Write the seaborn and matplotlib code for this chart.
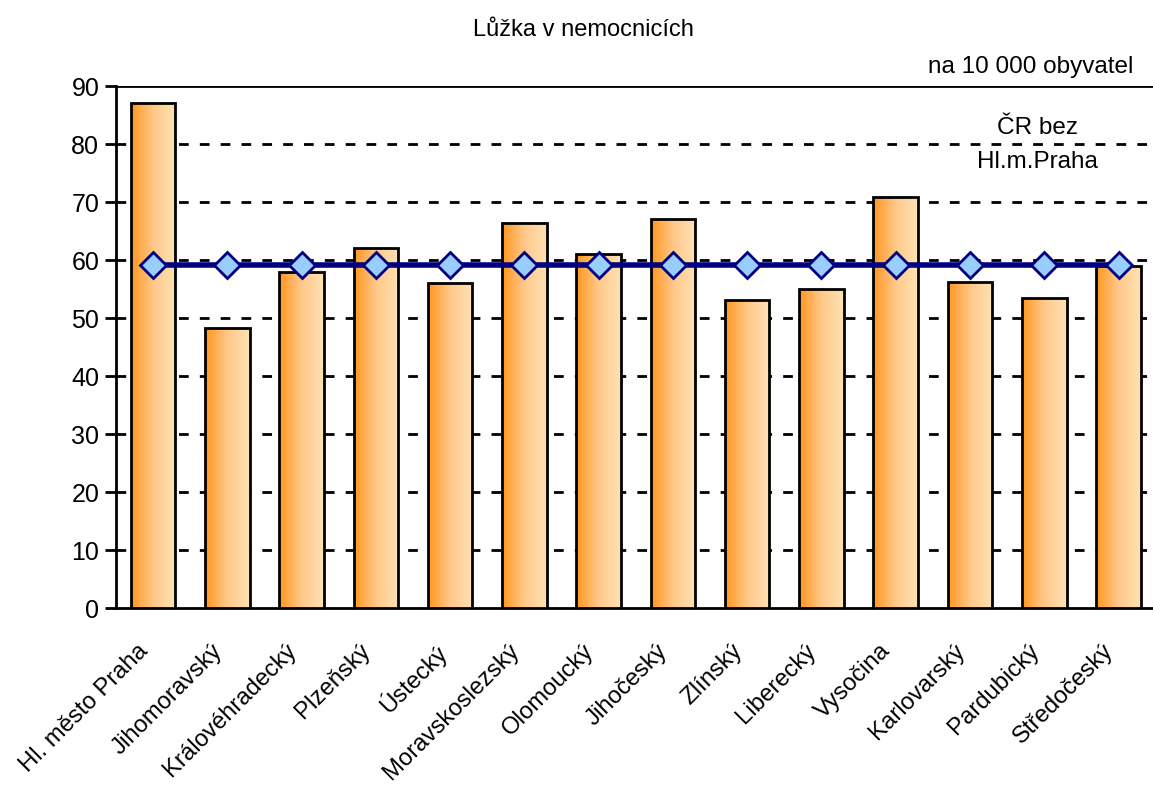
import numpy as np
import pandas as pd
import matplotlib
matplotlib.use("Agg")
import matplotlib.pyplot as plt
import seaborn as sns
from matplotlib.colors import LinearSegmentedColormap

# Data
kraje = ["Hl. město Praha", "Jihomoravský", "Královéhradecký", "Plzeňský", "Ústecký",
         "Moravskoslezský", "Olomoucký", "Jihočeský", "Zlínský", "Liberecký",
         "Vysočina", "Karlovarský", "Pardubický", "Středočeský"]
luzka = [87.1, 48.2, 57.9, 62.1, 56.1, 66.4, 61.1, 67.1, 53.1, 55.0, 70.8, 56.2, 53.5, 59.0]
cr_bez_prahy = [59.1] * len(kraje)
y_ticks = [0, 10, 20, 30, 40, 50, 60, 70, 80, 90]

df = pd.DataFrame({"kraj": kraje, "luzka": luzka, "cr": cr_bez_prahy})

sns.set_style("white", {"text.color": "black", "xtick.color": "black", "ytick.color": "black"})
plt.rcParams["font.family"] = ["Liberation Sans Narrow", "Liberation Sans", "DejaVu Sans"]

fig = plt.figure(figsize=(11.53, 7.88), dpi=100)
ax = fig.add_axes([0.1006, 0.2284, 0.9017, 0.6624])

sns.barplot(data=df, x="kraj", y="luzka", color="#FFB060", width=0.6,
            edgecolor="black", linewidth=2, ax=ax, zorder=3)

# gradient fill clipped to each bar
cmap = LinearSegmentedColormap.from_list("oranz", ["#FF961E", "#FFC88A", "#FFE2B4"])
grad = np.linspace(0, 1, 256).reshape(1, -1)
for p in ax.patches:
    x0, y0 = p.get_x(), p.get_y()
    w, h = p.get_width(), p.get_height()
    im = ax.imshow(grad, cmap=cmap, aspect="auto", extent=[x0, x0 + w, y0, y0 + h],
                   zorder=3.5)
    im.set_clip_path(p)
    p.set_facecolor("none")
    p.set_zorder(4)

sns.lineplot(data=df, x="kraj", y="cr", color="#000080", linewidth=4, marker="D",
             markersize=13, markerfacecolor="#99CCFF", markeredgecolor="#000080",
             markeredgewidth=2, ax=ax, zorder=5)

ax.set_xlim(-0.5, len(kraje) - 0.5)
ax.set_ylim(0, 90)
ax.set_yticks(y_ticks)
ax.set_xticks(np.arange(len(kraje) + 1) - 0.5, minor=True)
# labels sit a bit left of the category centre, like in the original
ax.set_xticks(np.arange(len(kraje)) - 0.22)
ax.set_xticklabels(kraje, rotation=45, ha="right", rotation_mode="anchor", fontsize=17.2)
ax.tick_params(axis="x", which="major", length=0, pad=23, labelcolor="black")
ax.tick_params(axis="x", which="minor", length=8, width=2, color="black", direction="out")
ax.tick_params(axis="y", length=8, width=2, color="black", direction="out", labelsize=18,
               pad=4, labelcolor="black")
ax.tick_params(axis="both", left=True, bottom=True)
ax.set_xlabel("")
ax.set_ylabel("")

for y in y_ticks[1:-1]:
    ax.axhline(y, color="black", linestyle=(0, (3.5, 4)), linewidth=2, zorder=1)
ax.axhline(90, color="black", linewidth=2, zorder=1)

for s in ["right", "top"]:
    ax.spines[s].set_visible(False)
for s in ["left", "bottom"]:
    ax.spines[s].set_color("black")
    ax.spines[s].set_linewidth(2)

fig.text(0.506, 0.962, "Lůžka v nemocnicích", ha="center", va="center", fontsize=17, color="black")
fig.text(0.894, 0.915, "na 10 000 obyvatel", ha="center", va="center", fontsize=17.5, color="black")
ax.text(11.91, 82.7, "ČR bez", ha="center", va="center", fontsize=17.5, color="black")
ax.text(11.91, 76.9, "Hl.m.Praha", ha="center", va="center", fontsize=17.5, color="black")

fig.savefig("out.png", dpi=100)
